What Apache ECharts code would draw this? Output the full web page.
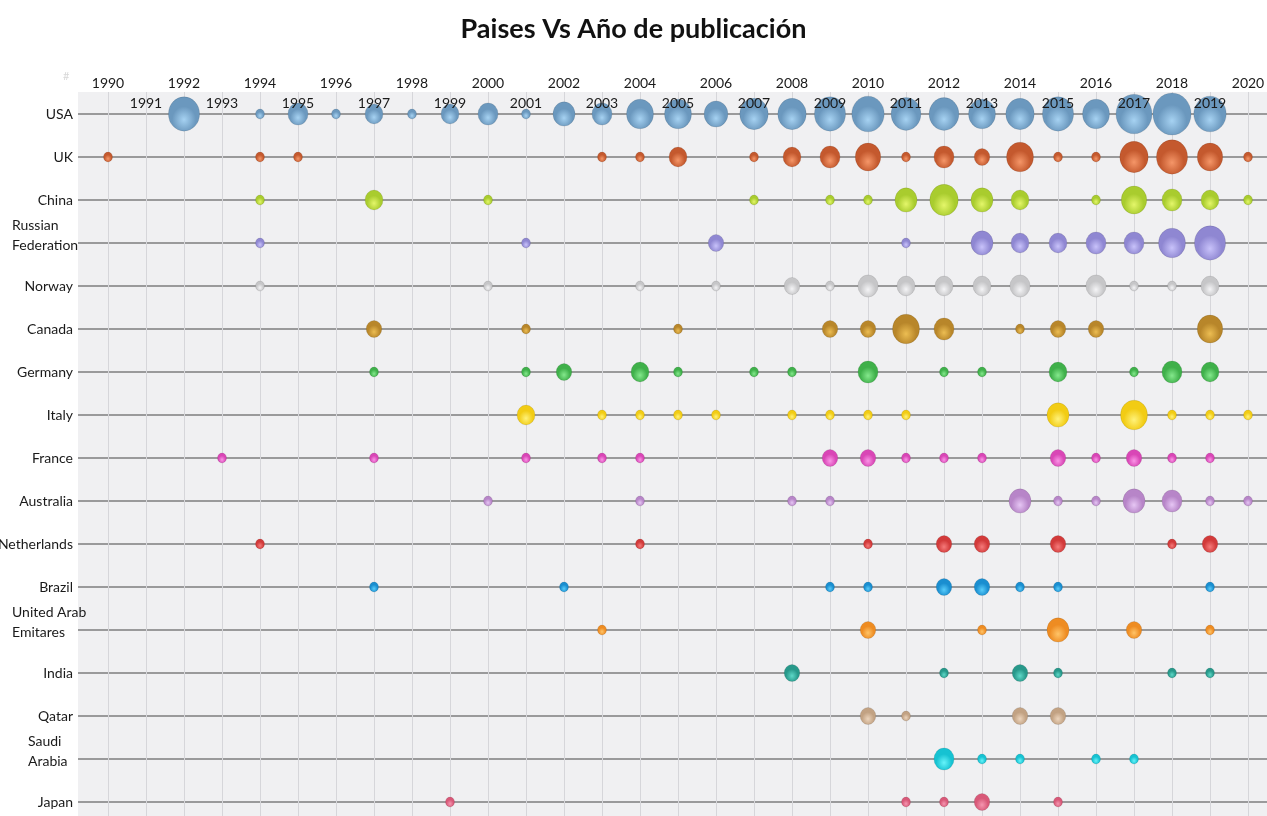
<!DOCTYPE html>
<html><head><meta charset="utf-8">
<script src="https://cdn.jsdelivr.net/npm/echarts@6/dist/echarts.min.js"></script>
<style>html,body{margin:0;padding:0;background:#fff}#c{width:1267px;height:816px}</style>
</head><body><div id="c"></div>
<script>
const titleText = 'Paises Vs Año de publicación';
const countries = ['USA','UK','China','Russian\nFederation','Norway','Canada','Germany','Italy','France','Australia','Netherlands','Brazil','United Arab\nEmitares','India','Qatar','Saudi\nArabia','Japan'];
const evenYears = [1990,1992,1994,1996,1998,2000,2002,2004,2006,2008,2010,2012,2014,2016,2018,2020];
const oddYears = [1991,1993,1995,1997,1999,2001,2003,2005,2007,2009,2011,2013,2015,2017,2019];
const rowIndex = [0,1,2,3,4,5,6,7,8,9,10,11,12,13,14,15,16];
const singleRows = [0,1,2,4,5,6,7,8,9,10,11,13,14,16];
const doubleRows = [3,12,15];

// [year, number of publications]
const usa = [[1992,12],[1994,1],[1995,5],[1996,1],[1997,4],[1998,1],[1999,4],[2000,5],[2001,1],[2002,6],[2003,5],[2004,9],[2005,9],[2006,7],[2007,10],[2008,10],[2009,12],[2010,13],[2011,11],[2012,11],[2013,9],[2014,10],[2015,12],[2016,9],[2017,16],[2018,18],[2019,13]];
const uk = [[1990,1],[1994,1],[1995,1],[2003,1],[2004,1],[2005,4],[2007,1],[2008,4],[2009,5],[2010,8],[2011,1],[2012,5],[2013,3],[2014,9],[2015,1],[2016,1],[2017,10],[2018,12],[2019,8],[2020,1]];
const china = [[1994,1],[1997,4],[2000,1],[2007,1],[2009,1],[2010,1],[2011,6],[2012,10],[2013,6],[2014,4],[2016,1],[2017,8],[2018,5],[2019,4],[2020,1]];
const russia = [[1994,1],[2001,1],[2006,3],[2011,1],[2013,6],[2014,4],[2015,4],[2016,5],[2017,5],[2018,9],[2019,12]];
const norway = [[1994,1],[2000,1],[2004,1],[2006,1],[2008,3],[2009,1],[2010,5],[2011,4],[2012,4],[2013,4],[2014,5],[2016,5],[2017,1],[2018,1],[2019,4]];
const canada = [[1997,3],[2001,1],[2005,1],[2009,3],[2010,3],[2011,9],[2012,5],[2014,1],[2015,3],[2016,3],[2019,8]];
const germany = [[1997,1],[2001,1],[2002,3],[2004,4],[2005,1],[2007,1],[2008,1],[2010,5],[2012,1],[2013,1],[2015,4],[2017,1],[2018,5],[2019,4]];
const italy = [[2001,4],[2003,1],[2004,1],[2005,1],[2006,1],[2008,1],[2009,1],[2010,1],[2011,1],[2015,6],[2017,9],[2018,1],[2019,1],[2020,1]];
const france = [[1993,1],[1997,1],[2001,1],[2003,1],[2004,1],[2009,3],[2010,3],[2011,1],[2012,1],[2013,1],[2015,3],[2016,1],[2017,3],[2018,1],[2019,1]];
const australia = [[2000,1],[2004,1],[2008,1],[2009,1],[2014,6],[2015,1],[2016,1],[2017,6],[2018,5],[2019,1],[2020,1]];
const netherlands = [[1994,1],[2004,1],[2010,1],[2012,3],[2013,3],[2015,3],[2018,1],[2019,3]];
const brazil = [[1997,1],[2002,1],[2009,1],[2010,1],[2012,3],[2013,3],[2014,1],[2015,1],[2019,1]];
const uae = [[2003,1],[2010,3],[2013,1],[2015,6],[2017,3],[2019,1]];
const india = [[2008,3],[2012,1],[2014,3],[2015,1],[2018,1],[2019,1]];
const qatar = [[2010,3],[2011,1],[2014,3],[2015,3]];
const saudi = [[2012,5],[2013,1],[2014,1],[2016,1],[2017,1]];
const japan = [[1999,1],[2011,1],[2012,1],[2013,3],[2015,1]];

const seriesData = [usa,uk,china,russia,norway,canada,germany,italy,france,australia,netherlands,brazil,uae,india,qatar,saudi,japan];
const baseColors = ['#6b98be','#c4592e','#a9cc2e','#8f87d2','#c6c6c8','#b8862a','#3fb04a','#f2cc14','#d946b6','#b785c8','#d23a3a','#1a8ed0','#ee8c22','#27988a','#c2a283','#16c2d2','#d85878'];
const lightColors = ['#a6d2f2','#f59668','#e4f66a','#c8c2fa','#f4f4f6','#ecbd52','#84e88c','#fff27a','#fa94e6','#e6c6f4','#f57a7a','#58ccfa','#ffc468','#5ed8c8','#ecd4bc','#66f4fa','#f596b0'];

function sphere(i){
  return {type:'radial', x:0.5, y:0.66, r:0.62, colorStops:[
    {offset:0, color:lightColors[i]},
    {offset:0.6, color:baseColors[i]},
    {offset:1, color:baseColors[i]}
  ]};
}

const FONT = 'Lato';
const xMin = 1989.2105, xMax = 2020.5;
const yMin = -0.5116, yMax = 16.3256;

const series = seriesData.map((arr, i) => ({
  type:'scatter',
  name: countries[i],
  xAxisIndex:0, yAxisIndex:0,
  data: arr.map(d => [d[0], rowIndex[i], d[1]]),
  symbolSize: d => { const s = 9*Math.sqrt(d[2]); return [s, s*1.1]; },
  itemStyle:{ color: sphere(i), borderColor: 'rgba(0,0,0,0.12)', borderWidth:0.8, opacity:1 },
  z: 5
}));

const labelTxt = {fontFamily:FONT, fontSize:14, color:'#1a1a1a', lineHeight:20};

const chart = echarts.init(document.getElementById('c'), null, {renderer:'canvas'});
chart.setOption({
  animation:false,
  backgroundColor:'#ffffff',
  title:{ text:titleText, left:'center', top:11,
    textStyle:{ fontFamily:FONT, fontSize:27, fontWeight:'bold', color:'#111' } },
  graphic:[{type:'text', left:63, top:71, style:{text:'#', fill:'#d8d8d8', font:'11px '+FONT}}],
  grid:{ left:78, right:0, top:92, bottom:0, show:true, backgroundColor:'#f0f0f2', borderWidth:0,
    containLabel:false, outerBoundsMode:'none' },
  xAxis:[
    { type:'value', position:'top', min:xMin, max:xMax,
      axisLine:{show:false}, axisTick:{show:false, customValues:evenYears.concat(oddYears)},
      splitLine:{show:true, lineStyle:{color:'#d6d6da', width:1}},
      axisLabel:{ customValues:evenYears, margin:2, fontFamily:FONT, fontSize:14, color:'#1a1a1a', formatter:v=>String(v) } },
    { type:'value', position:'top', min:xMin, max:xMax, z:10,
      axisLine:{show:false}, axisTick:{show:false, customValues:oddYears},
      splitLine:{show:false},
      axisLabel:{ customValues:oddYears, inside:true, margin:4, fontFamily:FONT, fontSize:14, color:'#1a1a1a', formatter:v=>String(v) } }
  ],
  yAxis:[
    { type:'value', inverse:true, min:yMin, max:yMax,
      axisLine:{show:false}, axisTick:{show:false, customValues:rowIndex},
      splitLine:{show:true, lineStyle:{color:'#7e7e7e', width:1.5}},
      axisLabel:{ customValues:singleRows, margin:5, fontFamily:FONT, fontSize:14, color:'#1a1a1a',
        showMinLabel:true, showMaxLabel:true, hideOverlap:false,
        align:'right', verticalAlign:'middle', lineHeight:18, padding:[0,0,18,0],
        formatter:v=>countries[Math.round(v)] } },
    { type:'value', inverse:true, min:yMin, max:yMax, position:'left',
      axisLine:{show:false}, axisTick:{show:false, customValues:doubleRows},
      splitLine:{show:false},
      axisLabel:{ customValues:doubleRows, margin:66, fontFamily:FONT, fontSize:14, color:'#1a1a1a',
        showMinLabel:true, showMaxLabel:true, hideOverlap:false,
        align:'left', verticalAlign:'middle', lineHeight:20, padding:[0,0,16,0],
        formatter:v=>{ const p = countries[Math.round(v)].split('\n');
          const k = Math.round(v) === 15 ? 'b' : 'a';
          return '{'+k+'|'+p[0]+'}\n{'+k+'|'+p[1]+'}'; },
        rich:{ a:Object.assign({}, labelTxt), b:Object.assign({padding:[0,0,0,16]}, labelTxt) } } }
  ],
  series: series
});
</script></body></html>
